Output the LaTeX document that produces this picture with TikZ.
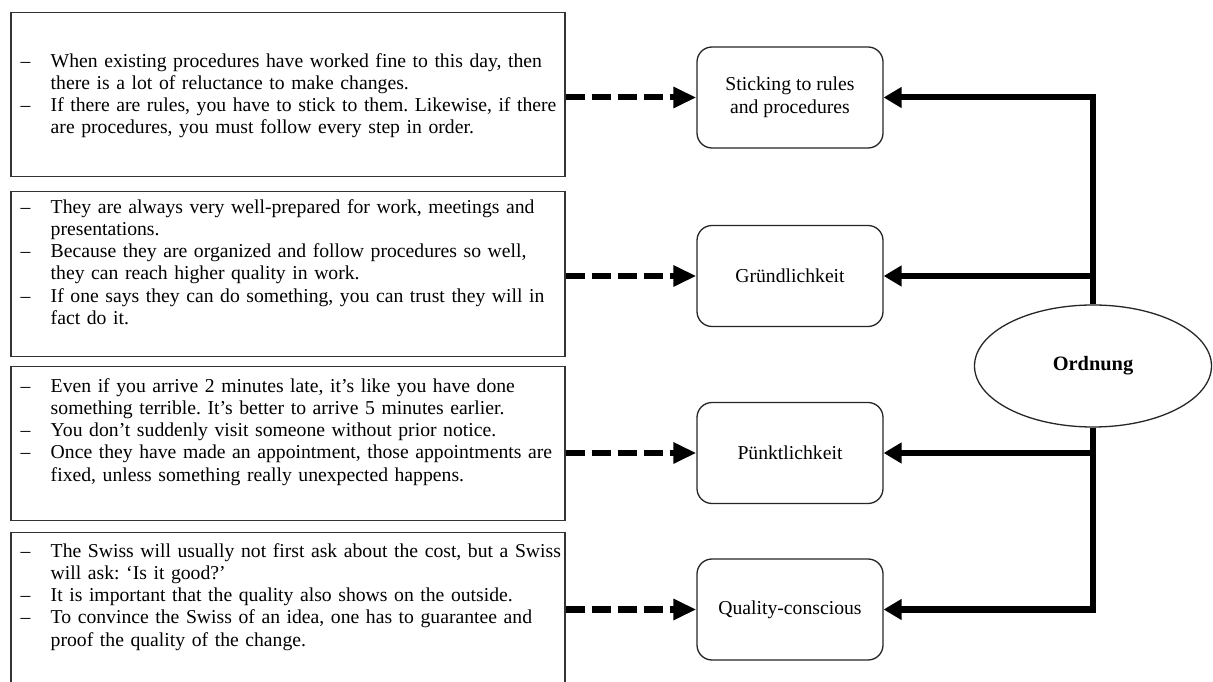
\documentclass[tikz,border=0pt]{standalone}
\usepackage{fontspec}
\setmainfont{Liberation Serif}
\frenchspacing
\usetikzlibrary{arrows.meta, positioning, shapes.geometric}
\newlength{\unitpx}
\setlength{\unitpx}{0.025cm}
\tikzset{
  notebox/.style = {draw=black!80, line width=1.5\unitpx, anchor=north west,
                    inner xsep=10\unitpx, inner ysep=0pt, text width=534\unitpx,
                    align=left, font=\fontsize{14}{15.8}\selectfont},
  trait/.style   = {draw=black!85, line width=1.3\unitpx, rounded corners=15\unitpx,
                    minimum width=186\unitpx, minimum height=101\unitpx,
                    align=center, font=\fontsize{14}{16.2}\selectfont},
  core/.style    = {draw=black!85, ellipse, line width=1.3\unitpx, fill=white,
                    minimum width=237\unitpx, minimum height=122\unitpx,
                    font=\fontsize{14.5}{16}\selectfont\bfseries},
  example/.style = {line width=0.15cm, dash pattern=on 0.475cm off 0.175cm,
                    -{Triangle[length=0.575cm, width=0.5cm]}},
  derive/.style  = {line width=0.15cm, -{Triangle[length=0.45cm, width=0.5cm]}},
}

\begin{document}
\begin{tikzpicture}[x=\unitpx, y=-\unitpx]
    \useasboundingbox[fill=white] (0,0) rectangle (1213,682);

    % examples on the left
    \node[notebox, text height=54.5\unitpx, text depth=109.5\unitpx] (rulesnote) at (10,12)
      {\begin{tabular}[t]{@{}p{30\unitpx}@{}l@{}}
        -- & When existing procedures have worked fine to this day, then\\
           & there is a lot of reluctance to make changes.\\
        -- & If there are rules, you have to stick to them. Likewise, if there\\
           & are procedures, you must follow every step in order.
       \end{tabular}};
    \node[notebox, text height=21.5\unitpx, text depth=143.5\unitpx] (grundnote) at (10,191)
      {\begin{tabular}[t]{@{}p{30\unitpx}@{}l@{}}
        -- & They are always very well-prepared for work, meetings and\\
           & presentations.\\
        -- & Because they are organized and follow procedures so well,\\
           & they can reach higher quality in work.\\
        -- & If one says they can do something, you can trust they will in\\
           & fact do it.
       \end{tabular}};
    \node[notebox, text height=25.5\unitpx, text depth=128.5\unitpx] (punktnote) at (10,366)
      {\begin{tabular}[t]{@{}p{30\unitpx}@{}l@{}}
        -- & Even if you arrive 2 minutes late, it's like you have done\\
           & something terrible. It's better to arrive 5 minutes earlier.\\
        -- & You don't suddenly visit someone without prior notice.\\
        -- & Once they have made an appointment, those appointments are\\
           & fixed, unless something really unexpected happens.
       \end{tabular}};
    \node[notebox, text height=24.5\unitpx, text depth=160\unitpx] (qualnote) at (10,532)
      {\begin{tabular}[t]{@{}p{30\unitpx}@{}l@{}}
        -- & The Swiss will usually not first ask about the cost, but a Swiss\\
           & will ask: `Is it good?'\\
        -- & It is important that the quality also shows on the outside.\\
        -- & To convince the Swiss of an idea, one has to guarantee and\\
           & proof the quality of the change.
       \end{tabular}};

    % traits and the core value
    \node[trait] (rules) at (790,97.5)  {Sticking to rules\\and procedures};
    \node[trait] (grund) at (790,276)   {Gründlichkeit};
    \node[trait] (punkt) at (790,453)   {Pünktlichkeit};
    \node[trait] (qual)  at (790,609.5) {Quality-conscious};
    \node[core] (ordnung) at (1093,366) {Ordnung};

    \draw[example] (rulesnote.east |- rules.west) -- (rules.west);
    \draw[example] (grundnote.east |- grund.west) -- (grund.west);
    \draw[example] (punktnote.east |- punkt.west) -- (punkt.west);
    \draw[example] (qualnote.east |- qual.west)   -- (qual.west);

    \draw[derive] (ordnung.north) |- (rules.east);
    \draw[derive] (ordnung.north) |- (grund.east);
    \draw[derive] (ordnung.south) |- (punkt.east);
    \draw[derive] (ordnung.south) |- (qual.east);
\end{tikzpicture}
\end{document}
